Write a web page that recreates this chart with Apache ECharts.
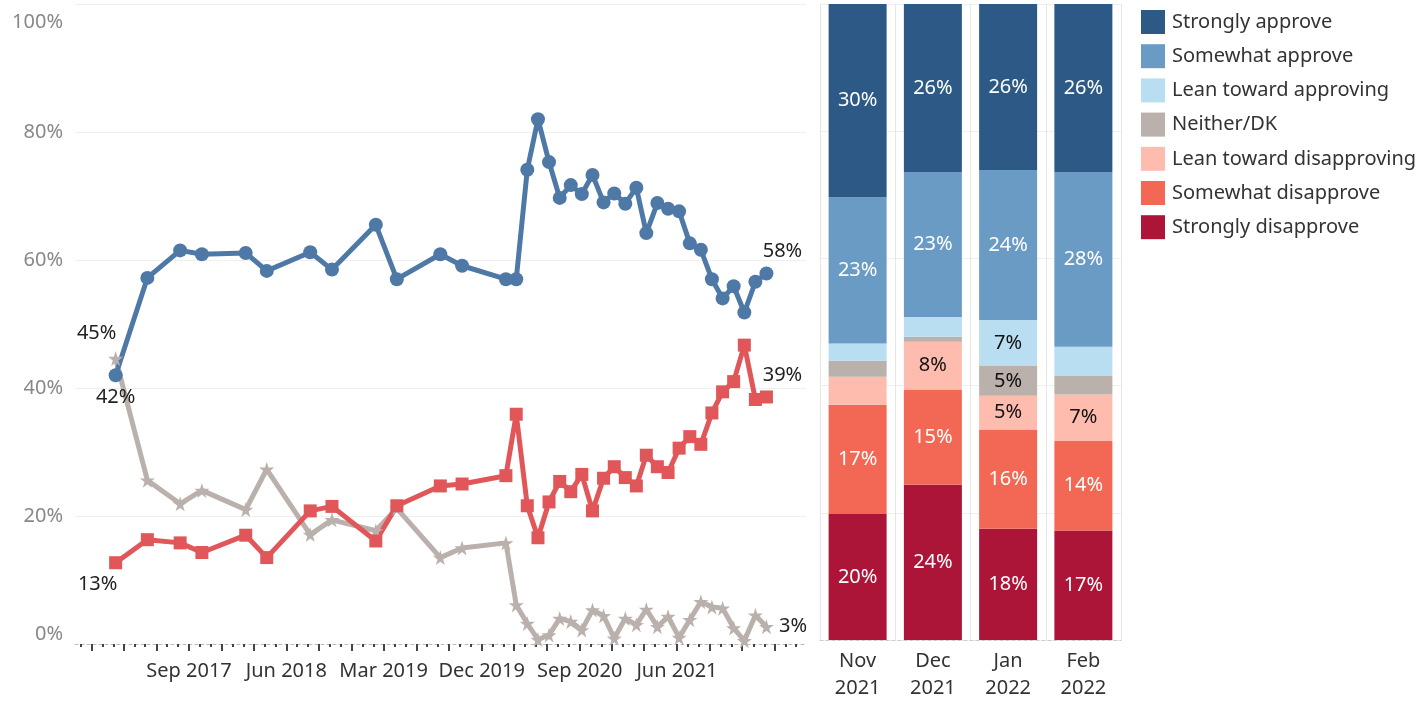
<!DOCTYPE html>
<html>
<head>
<meta charset="utf-8">
<script src="https://cdn.jsdelivr.net/npm/echarts@6/dist/echarts.min.js"></script>
<style>
html, body { margin: 0; padding: 0; background: #fff; }
#chart { width: 1426px; height: 702px; }
</style>
</head>
<body>
<div id="chart"></div>
<script>
// survey dates for the trend lines
const dates = [
  '2017-02-07', '2017-05-07', '2017-08-07', '2017-10-07', '2018-02-07', '2018-04-07',
  '2018-08-07', '2018-10-07', '2019-02-07', '2019-04-07', '2019-08-07', '2019-10-07',
  '2020-02-07', '2020-03-07', '2020-04-07', '2020-05-07', '2020-06-07', '2020-07-07',
  '2020-08-07', '2020-09-07', '2020-10-07', '2020-11-07', '2020-12-07', '2021-01-07',
  '2021-02-07', '2021-03-07', '2021-04-07', '2021-05-07', '2021-06-07', '2021-07-07',
  '2021-08-07', '2021-09-07', '2021-10-07', '2021-11-07', '2021-12-07', '2022-01-07',
  '2022-02-07'
];
const approve = [
  42.0, 57.2, 61.5, 60.9, 61.1, 58.3, 61.2, 58.5, 65.5, 57.0, 60.9, 59.1,
  57.0, 57.0, 74.1, 82.0, 75.3, 69.7, 71.7, 70.3, 73.3, 69.0, 70.4, 68.8,
  71.3, 64.2, 68.9, 68.0, 67.6, 62.6, 61.6, 57.0, 54.0, 55.9, 51.8, 56.6, 57.9
];
const disapprove = [
  12.7, 16.3, 15.8, 14.3, 17.0, 13.5, 20.8, 21.5, 16.1, 21.6, 24.7, 25.0,
  26.3, 35.9, 21.6, 16.6, 22.2, 25.4, 23.8, 26.5, 20.8, 25.9, 27.7, 26.0,
  24.7, 29.5, 27.7, 26.8, 30.6, 32.4, 31.2, 36.1, 39.4, 41.0, 46.7, 38.2, 38.6
];
const neither = [
  44.6, 25.6, 21.9, 24.0, 21.0, 27.3, 17.1, 19.4, 17.7, 21.2, 13.5, 15.0,
  15.8, 6.1, 3.2, 0.7, 1.4, 4.0, 3.5, 2.2, 5.3, 4.4, 0.9, 4.0,
  3.0, 5.4, 2.7, 4.3, 1.0, 3.8, 6.6, 5.8, 5.6, 2.5, 0.5, 4.5, 2.7
];

// recent months, stacked breakdown
const months = ['Nov\n2021', 'Dec\n2021', 'Jan\n2022', 'Feb\n2022'];
const stronglyApprove = [30.4, 26.4, 26.1, 26.4];
const somewhatApprove = [23.0, 22.8, 23.6, 27.5];
const leanApprove = [2.7, 3.1, 7.2, 4.5];
const neitherDK = [2.5, 0.8, 4.7, 3.0];
const leanDisapprove = [4.4, 7.5, 5.3, 7.3];
const somewhatDisapprove = [17.2, 15.0, 15.6, 14.1];
const stronglyDisapprove = [19.8, 24.4, 17.5, 17.2];

// date axis labels
const xLabelDates = ['2017-09-01', '2018-06-01', '2019-03-01', '2019-12-01', '2020-09-01', '2021-06-01'];
const xStart = '2016-10-16';
const xEnd = '2022-05-29';

const font = 'Noto Sans';
const monthNames = ['Jan', 'Feb', 'Mar', 'Apr', 'May', 'Jun', 'Jul', 'Aug', 'Sep', 'Oct', 'Nov', 'Dec'];
const starPath = 'path://M50,0 L61,35 L98,35 L68,57 L79,91 L50,70 L21,91 L32,57 L2,35 L39,35 Z';

function ts(s) {
  const p = s.split('-').map(Number);
  return new Date(p[0], p[1] - 1, p[2] || 1).getTime();
}

// tick positions: every month (minor) and every quarter (major)
const monthTicks = [];
const quarterTicks = [];
for (let y = 2016; y <= 2022; y++) {
  for (let m = 0; m < 12; m++) {
    const t = new Date(y, m, 1).getTime();
    if (t < ts(xStart) || t > ts(xEnd)) continue;
    monthTicks.push(t);
    if (m % 3 === 2) quarterTicks.push(t);
  }
}

function pointLabel(position, offset) {
  return {
    show: true, position: position, offset: offset, distance: 5,
    color: '#222', fontSize: 20, fontFamily: font,
    formatter: p => Math.round(p.value[1]) + '%'
  };
}

function lineData(vals, first, last) {
  return vals.map((v, i) => {
    const item = { value: [ts(dates[i]), v] };
    if (i === 0) item.label = first;
    if (i === vals.length - 1) item.label = last;
    return item;
  });
}

function lineSeries(name, vals, color, symbol, size, first, last) {
  return {
    name: name,
    type: 'line',
    xAxisIndex: 0,
    yAxisIndex: 0,
    data: lineData(vals, first, last),
    symbol: symbol,
    symbolSize: size,
    showAllSymbol: true,
    lineStyle: { color: color, width: 5 },
    itemStyle: { color: color, opacity: 1 },
    label: { show: false },
    emphasis: { disabled: true }
  };
}

function barSeries(name, vals, color, textColor) {
  return {
    name: name,
    type: 'bar',
    stack: 'total',
    xAxisIndex: 2,
    yAxisIndex: 1,
    barWidth: 58,
    data: vals,
    itemStyle: { color: color },
    label: {
      show: true, position: 'inside', color: textColor, fontSize: 20, fontFamily: font,
      formatter: p => (p.value >= 4.6 ? Math.round(p.value) + '%' : '')
    },
    emphasis: { disabled: true }
  };
}

let chart = echarts.init(document.getElementById('chart'));

chart.setOption({
  animation: false,
  textStyle: { fontFamily: font },
  grid: [
    { left: 75, top: 4, width: 731, height: 640 },
    { left: 820, top: 4, width: 301, height: 640 }
  ],
  legend: {
    data: ['Strongly approve', 'Somewhat approve', 'Lean toward approving', 'Neither/DK',
      'Lean toward disapproving', 'Somewhat disapprove', 'Strongly disapprove'],
    orient: 'vertical',
    left: 1141,
    top: 10,
    padding: 0,
    itemWidth: 24,
    itemHeight: 24,
    itemGap: 10.2,
    icon: 'rect',
    selectedMode: false,
    textStyle: { fontSize: 20, color: '#333', fontFamily: font, padding: [0, 0, 0, 2] }
  },
  xAxis: [
    {
      type: 'value',
      gridIndex: 0,
      position: 'bottom',
      min: ts(xStart),
      max: ts(xEnd),
      axisLine: { show: true, lineStyle: { color: '#bbb', type: [3, 3] } },
      axisTick: { show: true, customValues: quarterTicks, length: 7, lineStyle: { color: '#444', width: 2 } },
      axisLabel: {
        customValues: xLabelDates.map(ts),
        formatter: v => { const d = new Date(v); return monthNames[d.getMonth()] + ' ' + d.getFullYear(); },
        fontSize: 20, color: '#333', fontFamily: font, margin: 17
      },
      splitLine: { show: false }
    },
    {
      type: 'value',
      gridIndex: 0,
      position: 'bottom',
      min: ts(xStart),
      max: ts(xEnd),
      axisLine: { show: false },
      axisTick: { show: true, customValues: monthTicks, length: 3, lineStyle: { color: '#444', width: 2 } },
      axisLabel: { show: false },
      splitLine: { show: false }
    },
    {
      type: 'category',
      gridIndex: 1,
      data: months,
      axisLine: { show: true, lineStyle: { color: '#ccc', type: [3, 3] } },
      axisTick: { show: false },
      axisLabel: { fontSize: 20, color: '#333', fontFamily: font, lineHeight: 27, margin: 8 },
      splitLine: { show: true, interval: 0, lineStyle: { color: '#e6e6e6' } }
    }
  ],
  yAxis: [
    {
      type: 'value',
      gridIndex: 0,
      min: 0,
      max: 100,
      interval: 20,
      axisLine: { show: false },
      axisTick: { show: false },
      axisLabel: {
        formatter: v => (v === 100 ? '{top|100%}' : v + '%'),
        fontSize: 20, color: '#888', fontFamily: font, margin: 12,
        verticalAlignMaxLabel: 'top', verticalAlignMinLabel: 'bottom',
        rich: { top: { fontSize: 20, color: '#888', fontFamily: font, padding: [8, 0, 0, 0] } }
      },
      splitLine: { show: true, showMinLine: false, lineStyle: { color: '#efefef' } }
    },
    {
      type: 'value',
      gridIndex: 1,
      min: 0,
      max: 100,
      interval: 20,
      axisLine: { show: false },
      axisTick: { show: false },
      axisLabel: { show: false },
      splitLine: { show: true, lineStyle: { color: '#efefef' } }
    }
  ],
  series: [
    lineSeries('Neither', neither, '#bab0ac', starPath, 15,
      pointLabel('top', [-19, -3]), pointLabel('right', [0, 0])),
    lineSeries('Disapprove', disapprove, '#e15759', 'rect', 13,
      pointLabel('bottom', [-18, 0]), pointLabel('top', [16, 0])),
    lineSeries('Approve', approve, '#4e79a7', 'circle', 14,
      pointLabel('bottom', [0, 0]), pointLabel('top', [16, 0])),
    barSeries('Strongly disapprove', stronglyDisapprove, '#ad1538', '#fff'),
    barSeries('Somewhat disapprove', somewhatDisapprove, '#f26855', '#fff'),
    barSeries('Lean toward disapproving', leanDisapprove, '#fdbcae', '#111'),
    barSeries('Neither/DK', neitherDK, '#bab0ac', '#111'),
    barSeries('Lean toward approving', leanApprove, '#b9ddf1', '#111'),
    barSeries('Somewhat approve', somewhatApprove, '#6a9bc4', '#fff'),
    barSeries('Strongly approve', stronglyApprove, '#2c5985', '#fff')
  ]
});
</script>
</body>
</html>
